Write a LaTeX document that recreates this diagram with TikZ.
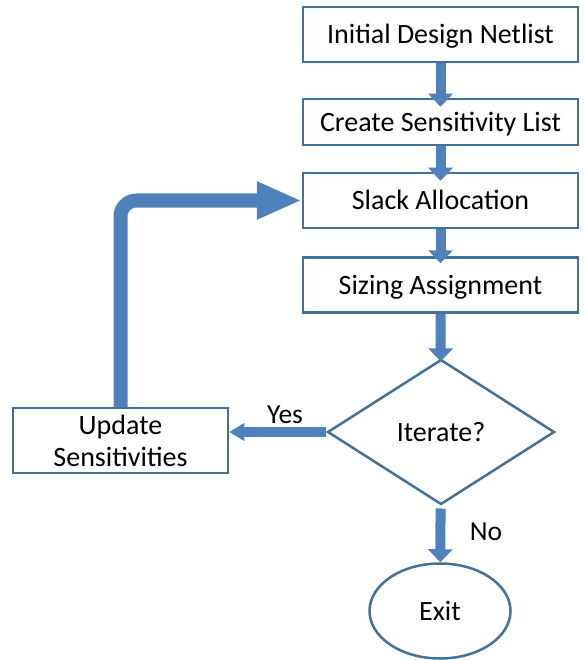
\documentclass[tikz,border=0pt]{standalone}
\usepackage{fontspec}
\setmainfont{Carlito}
\usetikzlibrary{arrows.meta}
\usetikzlibrary{shapes}

\definecolor{boxedge}{RGB}{65,113,156}
\definecolor{flowblue}{RGB}{79,129,189}

\tikzset{
  stepbox/.style={draw=boxedge, line width=2.5pt, rectangle, minimum width=275pt,
    minimum height=55pt, inner sep=0pt, text height=18.5pt, text depth=0pt},
  flowline/.style={draw=flowblue, line width=10pt,
    -{Triangle[width=24pt,length=13pt]}},
  lbl/.style={font=\fontsize{27.5}{33}\selectfont, anchor=base}
}

\begin{document}
\begin{tikzpicture}[x=1pt, y=-1pt, font=\fontsize{28}{33}\selectfont]
    \useasboundingbox (0,0) rectangle (584,660);

    \node[stepbox] (Init) at (440.5,34.5) {Initial Design Netlist};
    \node[stepbox, minimum height=46pt] (Sens) at (440.5,122) {Create Sensitivity List};
    \node[stepbox] (Slack) at (440.5,200.5) {Slack Allocation};
    \node[stepbox] (Size) at (440.5,285) {Sizing Assignment};
    \node[draw=boxedge, line width=2.5pt, diamond, minimum width=227pt, minimum height=145pt,
      inner sep=0pt, text height=18.5pt, text depth=0pt] (Iter) at (441,432) {Iterate?};
    \node[draw=boxedge, line width=2.5pt, ellipse, minimum width=141pt, minimum height=95pt,
      inner sep=0pt] (Exit) at (440,611) {Exit};
    \node[draw=boxedge, line width=2.5pt, rectangle, minimum width=215pt, minimum height=65pt,
      inner sep=0pt, align=center, font=\fontsize{28}{32}\selectfont] (Upd) at (120.5,440.5)
      {Update\\Sensitivities};

    \draw[flowline, shorten >=-9pt] (Init) to (Sens);
    \draw[flowline, shorten >=-9pt] (Sens) to (Slack);
    \draw[flowline, shorten >=-7pt] (Slack) to (Size);
    \draw[flowline, shorten >=-3pt] (Size) to (Iter);
    \draw[flowline, shorten <=3pt] (Iter) to (Exit);
    \draw[flowline, -{Triangle[width=17pt,length=15pt]}] (Iter.west) -- (Iter.west -| Upd.east);
    \draw[flowline, line width=14pt, rounded corners=16pt,
      -{Triangle[width=35pt,length=45pt]}] (Upd.north) |- (Slack.west);

    \node[lbl] (Yes) at (285,423) {Yes};
    \node[lbl] (No) at (486,540) {No};
\end{tikzpicture}
\end{document}
